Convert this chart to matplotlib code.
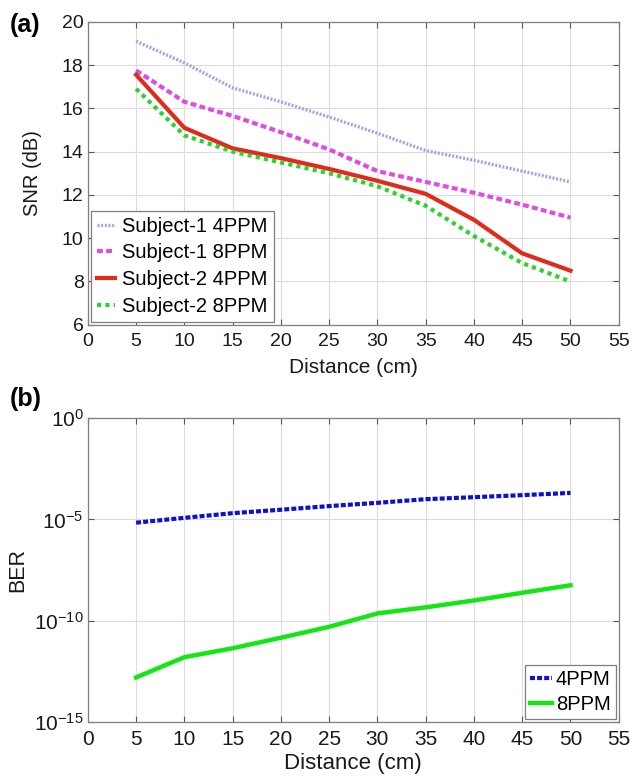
import numpy as np
import matplotlib
matplotlib.use("Agg")
import matplotlib.pyplot as plt

plt.rcParams["font.family"] = ["Liberation Sans", "DejaVu Sans"]
plt.rcParams["mathtext.fontset"] = "custom"
plt.rcParams["mathtext.rm"] = "Liberation Sans"
plt.rcParams["mathtext.it"] = "Liberation Sans:italic"

# datos panel (a)
distancia = [5, 10, 15, 20, 25, 30, 35, 40, 45, 50]
snr_s1_4ppm = [19.1, 18.1, 16.95, 16.3, 15.6, 14.85, 14.05, 13.6, 13.1, 12.6]
snr_s1_8ppm = [17.75, 16.3, 15.65, 14.9, 14.1, 13.1, 12.6, 12.1, 11.55, 10.95]
snr_s2_4ppm = [17.55, 15.1, 14.15, 13.7, 13.2, 12.65, 12.05, 10.85, 9.3, 8.5]
snr_s2_8ppm = [16.9, 14.75, 14.0, 13.5, 13.0, 12.4, 11.5, 10.1, 8.85, 8.0]

# datos panel (b), exponentes de BER
ber_4ppm_exp = [-5.16, -4.92, -4.69, -4.52, -4.34, -4.18, -4.0, -3.9, -3.8, -3.69]
ber_8ppm_exp = [-12.8, -11.8, -11.36, -10.84, -10.3, -9.64, -9.34, -9.0, -8.62, -8.25]

ber_4ppm = [10.0 ** e for e in ber_4ppm_exp]
ber_8ppm = [10.0 ** e for e in ber_8ppm_exp]

fig = plt.figure(figsize=(6.32, 7.77), dpi=100)
ax1 = fig.add_axes([0.139, 0.582, 0.840, 0.390])
ax2 = fig.add_axes([0.139, 0.0708, 0.840, 0.391])

gris = "#7f7f7f"


def estilo(ax, fs):
    ax.grid(True, color="#dddddd", linewidth=0.8, linestyle="-")
    ax.set_axisbelow(True)
    for s in ax.spines.values():
        s.set_color(gris)
        s.set_linewidth(0.9)
    ax.tick_params(direction="in", top=True, right=True, length=4, width=0.8,
                   color="#555555", labelsize=fs, labelcolor="#1a1a1a")
    ax.tick_params(axis="y", pad=3)
    ax.tick_params(axis="x", pad=6)
    ax.minorticks_off()


# panel (a)
ax1.plot(distancia, snr_s1_4ppm, color="#a3a3e6", linewidth=2.4,
         linestyle=(0, (0.6, 0.5)), label="Subject-1 4PPM")
ax1.plot(distancia, snr_s1_8ppm, color="#e24be2", linewidth=3.0,
         linestyle=(0, (1.4, 0.8)), label="Subject-1 8PPM")
ax1.plot(distancia, snr_s2_4ppm, color="#e02a1a", linewidth=3.0,
         linestyle="-", label="Subject-2 4PPM")
ax1.plot(distancia, snr_s2_8ppm, color="#2fd02f", linewidth=3.0,
         linestyle=(0, (1.0, 1.0)), label="Subject-2 8PPM")
ax1.set_xlim(0, 55)
ax1.set_ylim(6, 20)
ax1.set_xticks(np.arange(0, 56, 5))
ax1.set_yticks(np.arange(6, 21, 2))
estilo(ax1, 14)
ax1.set_xlabel("Distance (cm)", fontsize=15, color="#1a1a1a")
ax1.set_ylabel("SNR (dB)", fontsize=14.5, color="#1a1a1a")
ax1.xaxis.set_label_coords(0.5, -0.108)
ax1.yaxis.set_label_coords(-0.087, 0.5)
leg1 = ax1.legend(loc="lower left", fontsize=14.5, frameon=True, fancybox=False,
                  framealpha=1, edgecolor=gris, borderaxespad=0.15,
                  handlelength=0.9, handletextpad=0.35, labelspacing=0.38,
                  borderpad=0.3)
leg1.get_frame().set_linewidth(0.9)

# panel (b)
ax2.semilogy(distancia, ber_4ppm, color="#1010c8", linewidth=3.0,
             linestyle=(0, (1.2, 0.5)), label="4PPM")
ax2.semilogy(distancia, ber_8ppm, color="#14e614", linewidth=3.2,
             linestyle="-", label="8PPM")
ax2.set_xlim(0, 55)
ax2.set_ylim(1e-15, 1)
ax2.set_xticks(np.arange(0, 56, 5))
ax2.set_yticks([1e-15, 1e-10, 1e-5, 1])
ax2.set_yticklabels([r"$\mathregular{10^{-15}}$", r"$\mathregular{10^{-10}}$",
                     r"$\mathregular{10^{-5}}$", r"$\mathregular{10^{0}}$"])
estilo(ax2, 15)
ax2.set_xlabel("Distance (cm)", fontsize=16, color="#1a1a1a")
ax2.set_ylabel("BER", fontsize=15.5, color="#1a1a1a")
ax2.xaxis.set_label_coords(0.5, -0.102)
ax2.yaxis.set_label_coords(-0.112, 0.5)
leg2 = ax2.legend(loc="lower right", fontsize=14.5, frameon=True, fancybox=False,
                  framealpha=1, edgecolor=gris, borderaxespad=0.15,
                  handlelength=1.1, handletextpad=0.2, labelspacing=0.3,
                  borderpad=0.25)
leg2.get_frame().set_linewidth(0.9)

fig.text(0.015, 0.968, "(a)", fontsize=18, fontweight="bold", va="center")
fig.text(0.015, 0.486, "(b)", fontsize=18, fontweight="bold", va="center")

fig.savefig("out.png", dpi=100)
